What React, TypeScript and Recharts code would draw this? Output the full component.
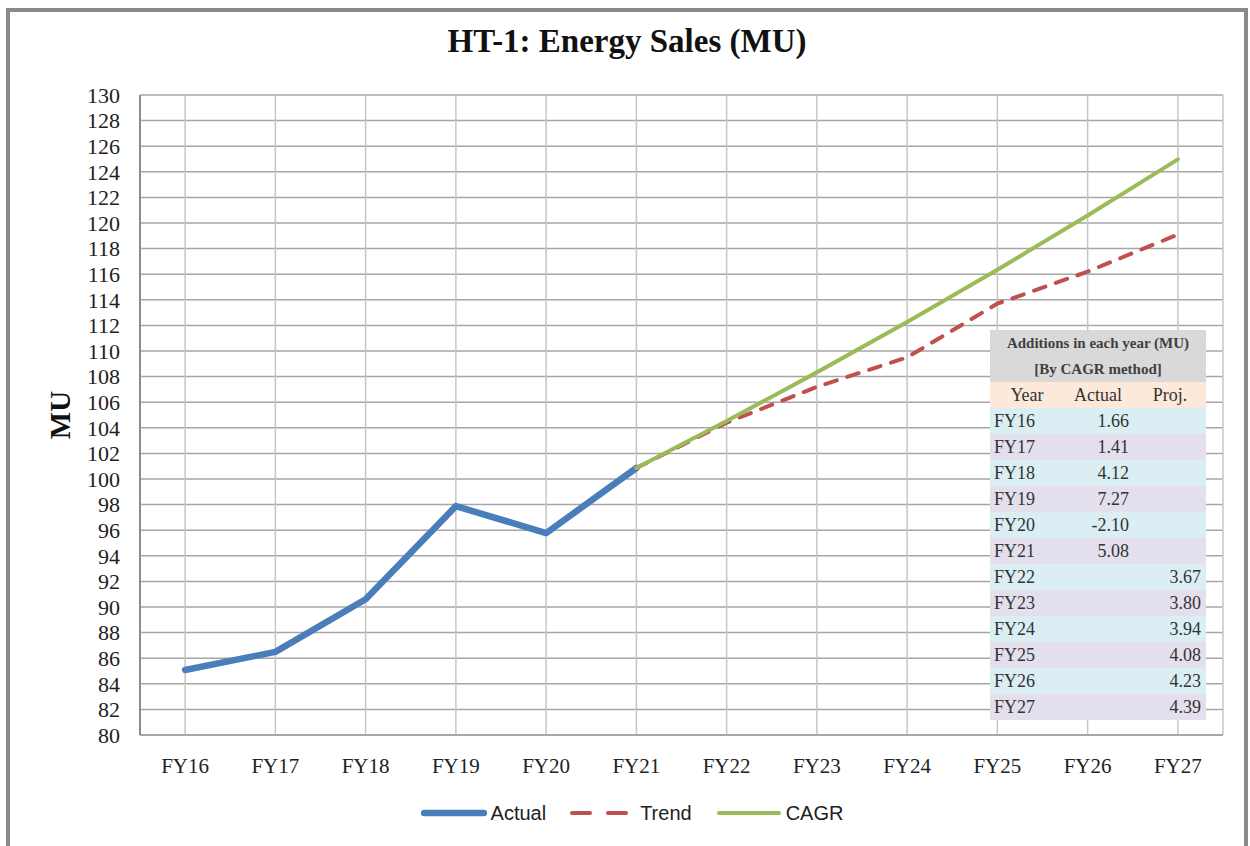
import React from 'react';
import { ComposedChart, Line, XAxis, YAxis, CartesianGrid, Legend } from 'recharts';

const years = ['FY16', 'FY17', 'FY18', 'FY19', 'FY20', 'FY21', 'FY22', 'FY23', 'FY24', 'FY25', 'FY26', 'FY27'];
const actualValues: (number | null)[] = [85.08, 86.49, 90.61, 97.88, 95.78, 100.86, null, null, null, null, null, null];
const trendValues: (number | null)[] = [null, null, null, null, null, 100.86, 104.4, 107.2, 109.5, 113.7, 116.2, 119.1];
const cagrValues: (number | null)[] = [null, null, null, null, null, 100.86, 104.53, 108.33, 112.27, 116.35, 120.58, 124.97];
const yTicks = [80, 82, 84, 86, 88, 90, 92, 94, 96, 98, 100, 102, 104, 106, 108, 110, 112, 114, 116, 118, 120, 122, 124, 126, 128, 130];
const seriesNames = ['Actual', 'Trend', 'CAGR'];

const tableTitle1 = 'Additions in each year (MU)';
const tableTitle2 = '[By CAGR method]';
const tableHeaders = ['Year', 'Actual', 'Proj.'];
const tableYears = years;
const tableActual = ['1.66', '1.41', '4.12', '7.27', '-2.10', '5.08', '', '', '', '', '', ''];
const tableProj = ['', '', '', '', '', '', '3.67', '3.80', '3.94', '4.08', '4.23', '4.39'];

const data = years.map((y, i) => ({
  year: y,
  Actual: actualValues[i],
  Trend: trendValues[i],
  CAGR: cagrValues[i],
}));

const SERIF = '"Liberation Serif", "DejaVu Serif", serif';
const SANS = '"Liberation Sans", Arial, sans-serif';

const seriesStyle: Record<string, { color: string; width: number; dash?: string }> = {
  Actual: { color: '#4a7ebb', width: 6.5 },
  Trend: { color: '#c0504d', width: 4, dash: '12 11' },
  CAGR: { color: '#9bbb59', width: 4 },
};

const LegendContent = (props: any) => {
  const payload = (props.payload || []) as any[];
  const names = seriesNames.filter((n) => payload.length === 0 || payload.some((p: any) => String(p.value) === n));
  return (
    <div style={{ display: 'flex', justifyContent: 'center', alignItems: 'center', height: 40, paddingLeft: 14 }}>
      {names.map((name: string, idx: number) => {
        const st = seriesStyle[name];
        return (
          <div key={name} style={{ display: 'flex', alignItems: 'center', marginRight: idx < names.length - 1 ? 24 : 0 }}>
            <svg width={66} height={12} style={{ marginRight: 4 }}>
              {st.dash ? (
                <g>
                  <line x1={2} y1={6} x2={20} y2={6} stroke={st.color} strokeWidth={st.width} strokeLinecap="round" />
                  <line x1={38} y1={6} x2={56} y2={6} stroke={st.color} strokeWidth={st.width} strokeLinecap="round" />
                </g>
              ) : (
                <line x1={3} y1={6} x2={63} y2={6} stroke={st.color} strokeWidth={st.width} strokeLinecap="round" />
              )}
            </svg>
            <span style={{ fontFamily: SANS, fontSize: 20, color: '#222' }}>{name}</span>
          </div>
        );
      })}
    </div>
  );
};

const rowBg = (i: number) => (i % 2 === 0 ? '#daeef3' : '#e4dfec');

const AdditionsTable = () => (
  <div style={{ position: 'absolute', left: 990, top: 330, width: 216, fontFamily: SERIF, color: '#333' }}>
    <div style={{ background: '#d9d9d9', height: 52 }}>
      <div style={{ height: 26, lineHeight: '26px', textAlign: 'center', fontWeight: 'bold', fontSize: 15, color: '#404040' }}>{tableTitle1}</div>
      <div style={{ height: 26, lineHeight: '26px', textAlign: 'center', fontWeight: 'bold', fontSize: 15, color: '#404040' }}>{tableTitle2}</div>
    </div>
    <div style={{ background: '#fde9d9', height: 26, position: 'relative', fontSize: 18 }}>
      <span style={{ position: 'absolute', left: 37, transform: 'translateX(-50%)', lineHeight: '26px' }}>{tableHeaders[0]}</span>
      <span style={{ position: 'absolute', left: 108, transform: 'translateX(-50%)', lineHeight: '26px' }}>{tableHeaders[1]}</span>
      <span style={{ position: 'absolute', left: 180, transform: 'translateX(-50%)', lineHeight: '26px' }}>{tableHeaders[2]}</span>
    </div>
    {tableYears.map((y, i) => (
      <div key={y} style={{ background: rowBg(i), height: 26, position: 'relative', fontSize: 18 }}>
        <span style={{ position: 'absolute', left: 4, lineHeight: '26px' }}>{y}</span>
        <span style={{ position: 'absolute', right: 216 - 139, lineHeight: '26px' }}>{tableActual[i]}</span>
        <span style={{ position: 'absolute', right: 216 - 211, lineHeight: '26px' }}>{tableProj[i]}</span>
      </div>
    ))}
  </div>
);

export default function App() {
  return (
    <div style={{ position: 'absolute', left: 0, top: 0, width: 1250, height: 846, background: '#fff', overflow: 'hidden' }}>
      <div style={{ position: 'absolute', left: 6, top: 8, width: 1242, height: 860, border: '4px solid #8a8a8a', boxSizing: 'border-box' }} />
      <div style={{ position: 'absolute', left: 0, top: 23, width: 1254, textAlign: 'center', fontFamily: SERIF, fontWeight: 'bold', fontSize: 33, lineHeight: '37px', color: '#111' }}>
        HT-1: Energy Sales (MU)
      </div>
      <div style={{ position: 'absolute', left: 0, top: 0 }}>
        <ComposedChart width={1250} height={846} data={data} margin={{ top: 95, right: 27, left: 0, bottom: 13 }}>
          <CartesianGrid vertical={false} stroke="#a6a6a6" strokeWidth={1.5} />
          <CartesianGrid horizontal={false} stroke="#c6c6c6" strokeWidth={1.5} />
          <XAxis
            dataKey="year"
            scale="band"
            height={58}
            tickLine={false}
            tickSize={0}
            tickMargin={23}
            axisLine={{ stroke: '#a0a0a0', strokeWidth: 1.5 }}
            tick={{ fontFamily: SERIF, fontSize: 21, fill: '#222' }}
            interval={0}
          />
          <YAxis
            width={140}
            domain={[80, 130]}
            ticks={yTicks}
            interval={0}
            tickLine={false}
            tickSize={0}
            tickMargin={20}
            axisLine={{ stroke: '#8c8c8c', strokeWidth: 2 }}
            tick={{ fontFamily: SERIF, fontSize: 22, fill: '#222' }}
            label={{ value: 'MU', angle: -90, position: 'center', dx: -10, style: { fontFamily: SERIF, fontWeight: 'bold', fontSize: 29, fill: '#111' } }}
          />
          <Legend verticalAlign="bottom" height={40} wrapperStyle={{ left: 0, width: 1250 }} content={<LegendContent />} />
          <Line dataKey="Actual" stroke={seriesStyle.Actual.color} strokeWidth={seriesStyle.Actual.width} dot={false} activeDot={false} isAnimationActive={false} strokeLinejoin="round" strokeLinecap="round" />
          <Line dataKey="Trend" stroke={seriesStyle.Trend.color} strokeWidth={seriesStyle.Trend.width} strokeDasharray={seriesStyle.Trend.dash} dot={false} activeDot={false} isAnimationActive={false} strokeLinecap="round" />
          <Line dataKey="CAGR" stroke={seriesStyle.CAGR.color} strokeWidth={seriesStyle.CAGR.width} dot={false} activeDot={false} isAnimationActive={false} strokeLinecap="round" />
        </ComposedChart>
      </div>
      <AdditionsTable />
    </div>
  );
}
